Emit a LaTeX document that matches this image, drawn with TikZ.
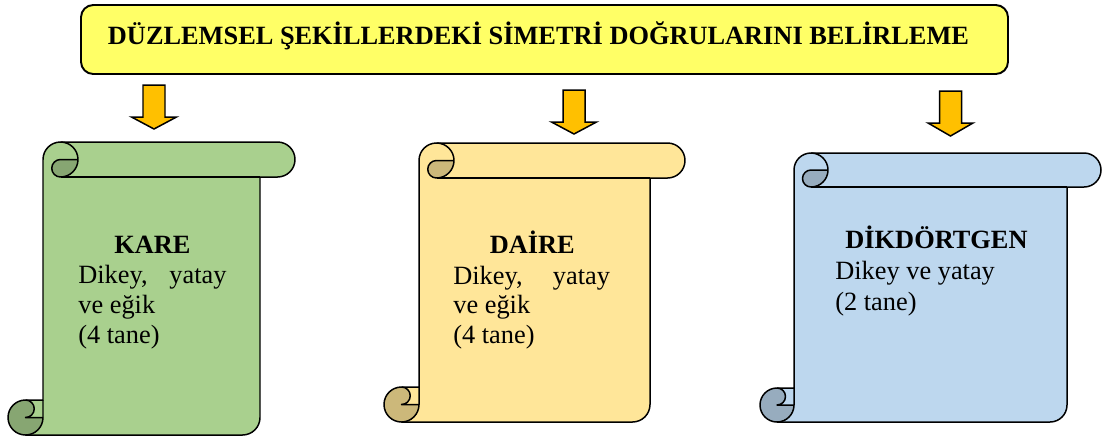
\documentclass[tikz,border=0pt]{standalone}
\usepackage{fontspec}
\setmainfont{Liberation Serif}
\definecolor{titlefill}{HTML}{FFFF66}
\definecolor{arrowfill}{HTML}{FFC000}
\definecolor{greenfill}{HTML}{A9D08E}
\definecolor{greendark}{HTML}{87A672}
\definecolor{goldfill}{HTML}{FFE699}
\definecolor{golddark}{HTML}{CCB87A}
\definecolor{bluefill}{HTML}{BDD7EE}
\definecolor{bluedark}{HTML}{97ACBE}
\newcommand\vscroll[7]{%
  % #1 l, #2 t, #3 r, #4 b, #5 c, #6 fill, #7 dark
  \pgfmathsetmacro\Sl{#1}\pgfmathsetmacro\St{#2}%
  \pgfmathsetmacro\Sr{#3}\pgfmathsetmacro\Sb{#4}%
  \pgfmathsetmacro\Sc{#5}\pgfmathsetmacro\Sch{#5/2}\pgfmathsetmacro\Scq{#5/4}%
  \pgfmathsetmacro\Sxa{\Sl+\Sch}\pgfmathsetmacro\Sxb{\Sl+\Sc}%
  \pgfmathsetmacro\Sxc{\Sl+1.5*\Sc}\pgfmathsetmacro\Sxd{\Sl+2*\Sc}%
  \pgfmathsetmacro\Sxf{\Sr-\Sc}\pgfmathsetmacro\Sxg{\Sr-\Sch}%
  \pgfmathsetmacro\Syc{\Sb-\Sc}\pgfmathsetmacro\Syd{\Sb-\Sch}%
  \pgfmathsetmacro\Sya{\St+\Sch}\pgfmathsetmacro\Syb{\St+\Sc}%
  \fill[#6] (\Sxa,\Sb) arc[start angle=90,delta angle=-90,radius=\Sch]
    -- (\Sxa,\Syd) arc[start angle=90,delta angle=-180,radius=\Scq]
    -- (\Sxb,\Syc) -- (\Sxb,\Sya) arc[start angle=180,delta angle=90,radius=\Sch]
    -- (\Sxg,\St) arc[start angle=270,delta angle=180,radius=\Sch]
    -- (\Sxf,\Syb) -- (\Sxf,\Syd) arc[start angle=0,delta angle=90,radius=\Sch] -- cycle;
  \fill[#7] (\Sxd,\Sya) arc[start angle=0,delta angle=90,radius=\Sch]
    arc[start angle=90,delta angle=180,radius=\Scq] -- cycle;
  \fill[#7] (\Sxb,\Syd) arc[start angle=0,delta angle=270,radius=\Sch]
    arc[start angle=270,delta angle=180,radius=\Scq] -- cycle;
  \draw[scrollline] (\Sxb,\Syc) -- (\Sxb,\Sya) arc[start angle=180,delta angle=90,radius=\Sch]
    -- (\Sxg,\St) arc[start angle=270,delta angle=180,radius=\Sch]
    -- (\Sxf,\Syb) -- (\Sxf,\Syd) arc[start angle=0,delta angle=90,radius=\Sch]
    -- (\Sxa,\Sb) arc[start angle=90,delta angle=180,radius=\Sch] -- cycle;
  \draw[scrollline] (\Sxc,\St) arc[start angle=270,delta angle=180,radius=\Sch]
    arc[start angle=90,delta angle=180,radius=\Scq] -- (\Sxd,\Sya);
  \draw[scrollline] (\Sxf,\Syb) -- (\Sxc,\Syb);
  \draw[scrollline] (\Sxa,\Syc) arc[start angle=270,delta angle=180,radius=\Scq] -- (\Sxb,\Syd);
  \draw[scrollline] (\Sxa,\Sb) arc[start angle=90,delta angle=-90,radius=\Sch] -- (\Sxb,\Syc);
}
\newcommand\blockarrow[4]{%
  % #1 cx, #2 top, #3 head start, #4 tip
  \draw[arrowshape] ({#1-11},#2) -- ({#1+11},#2) -- ({#1+11},#3) -- ({#1+22.5},#3)
    -- (#1,#4) -- ({#1-22.5},#3) -- ({#1-11},#3) -- cycle;
}
\begin{document}
\begin{tikzpicture}[x=0.02cm,y=-0.02cm,
  scrollline/.style={draw=black,line width=0.85pt,line join=round},
  arrowshape/.style={fill=arrowfill,draw=black,line width=0.85pt,line join=miter},
  titlebox/.style={draw=black,line width=1.1pt,fill=titlefill,rounded corners=7pt,
    minimum width=927*0.02cm,minimum height=69*0.02cm,inner sep=0pt},
  txt/.style={inner sep=0pt,font=\fontsize{15}{17}\selectfont},
  head/.style={inner sep=0pt,font=\fontsize{15}{17}\selectfont\bfseries}]
\useasboundingbox (0,0) rectangle (1103,437);
% title
\node[titlebox] (title) at (544.5,39.5) {};
\node[head,anchor=base] (titletext) at (538.5,44) {DÜZLEMSEL ŞEKİLLERDEKİ SİMETRİ DOĞRULARINI BELİRLEME};
% arrows
\blockarrow{154}{85}{117}{129}
\blockarrow{574}{90}{122}{134}
\blockarrow{950.5}{91}{123}{136}
% scrolls
\vscroll{8}{142}{295}{435}{35}{greenfill}{greendark}
\vscroll{384}{143}{685}{422}{35}{goldfill}{golddark}
\vscroll{760}{153}{1101}{422}{34}{bluefill}{bluedark}
% KARE
\node[head,anchor=base] (kare) at (152.5,253) {KARE};
\node[txt,anchor=base west] (kare1) at (78,283) {\makebox[84.3pt][s]{Dikey, yatay}};
\node[txt,anchor=base west] (kare2) at (78,313) {ve eğik};
\node[txt,anchor=base west] (kare3) at (78,343) {(4 tane)};
% DAIRE
\node[head,anchor=base] (daire) at (532.3,253) {DAİRE};
\node[txt,anchor=base west] (daire1) at (453,284) {\makebox[89.2pt][s]{Dikey, yatay}};
\node[txt,anchor=base west] (daire2) at (453,313) {ve eğik};
\node[txt,anchor=base west] (daire3) at (453,343) {(4 tane)};
% DIKDORTGEN
\node[head,anchor=base] (dikd) at (936.5,248.3) {DİKDÖRTGEN};
\node[txt,anchor=base west] (dikd1) at (835,279.3) {Dikey ve yatay};
\node[txt,anchor=base west] (dikd2) at (835,310) {(2 tane)};
\end{tikzpicture}
\end{document}
